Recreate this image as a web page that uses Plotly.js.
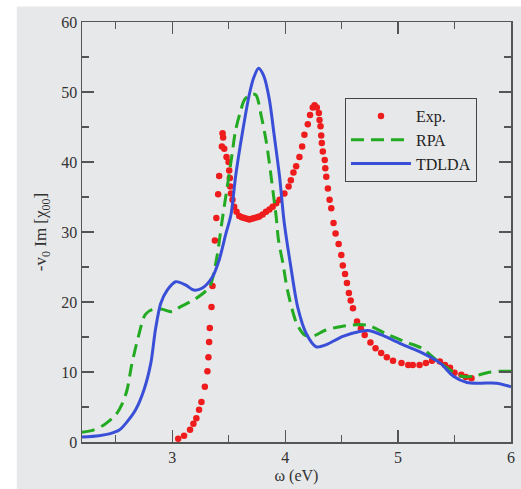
<!DOCTYPE html>
<html>
<head>
<meta charset="utf-8">
<script src="https://cdn.plot.ly/plotly-3.0.1.min.js"></script>
<style>html,body{margin:0;padding:0;background:#fff;}#chart{width:521px;height:489px;}</style>
</head>
<body>
<div id="chart"></div>
<script>
// Experimental data (red dots)
const expX = [3.052,3.104,3.157,3.187,3.213,3.237,3.258,3.288,3.311,3.320,3.326,3.332,3.347,3.356,3.377,3.390,3.406,3.415,3.439,3.445,3.450,3.460,3.480,3.498,3.504,3.510,3.513,3.519,3.533,3.548,3.569,3.593,3.615,3.637,3.660,3.682,3.705,3.726,3.750,3.770,3.800,3.830,3.860,3.889,3.920,3.950,3.993,4.030,4.050,4.073,4.097,4.126,4.150,4.170,4.200,4.220,4.244,4.260,4.280,4.298,4.304,4.313,4.319,4.324,4.333,4.350,4.355,4.364,4.378,4.393,4.408,4.428,4.446,4.473,4.497,4.510,4.530,4.547,4.564,4.580,4.600,4.636,4.670,4.704,4.755,4.800,4.850,4.900,4.955,5.030,5.090,5.130,5.190,5.246,5.300,5.370,5.415,5.460,5.500,5.560,5.600,5.650];
const expY = [0.47,0.9,1.76,2.6,3.4,4.6,5.7,7.9,10.1,12.1,14.3,16.3,19.3,22.3,28.8,32.0,35.4,38.0,42.2,44.1,43.5,41.9,40.7,40.0,38.8,37.7,36.5,35.5,34.6,33.6,32.9,32.3,32.1,32.0,31.9,31.8,31.9,32.0,32.1,32.2,32.5,32.9,33.2,33.6,34.1,34.6,35.5,36.5,37.4,38.5,39.4,40.7,42.2,43.9,45.4,46.7,47.8,48.1,47.8,47.0,46.0,45.1,43.8,42.7,41.5,40.3,39.1,37.9,36.2,34.6,33.4,31.3,29.8,28.3,26.7,25.2,24.0,22.7,21.3,20.2,19.1,17.2,16.2,15.3,14.2,13.4,12.7,12.1,11.6,11.3,11.0,11.0,11.0,11.3,11.6,11.5,11.0,10.6,9.9,9.6,9.3,9.1];

// RPA (green dashed)
const rpaX = [2.20,2.30,2.40,2.50,2.56,2.60,2.64,2.70,2.76,2.82,2.90,3.00,3.06,3.21,3.33,3.39,3.44,3.50,3.53,3.56,3.60,3.64,3.70,3.74,3.79,3.83,3.86,3.89,3.92,3.94,3.98,4.02,4.10,4.17,4.24,4.36,4.50,4.66,4.75,4.90,5.02,5.10,5.21,5.34,5.46,5.56,5.67,5.79,5.90,6.00];
const rpaY = [1.4,1.7,2.5,3.9,5.6,7.5,11.0,15.1,18.2,18.9,19.0,18.6,19.2,20.5,22.2,26.0,31.5,37.9,41.2,44.5,47.0,48.9,49.7,49.6,46.4,43.1,39.8,36.0,32.2,28.9,25.5,21.7,17.0,15.3,15.1,16.0,16.5,16.8,16.6,15.4,14.6,14.1,13.4,11.7,10.3,9.4,9.4,9.9,10.1,10.1];

// TDLDA (blue solid)
const tdX = [2.20,2.35,2.45,2.53,2.59,2.675,2.75,2.81,2.85,2.897,2.955,3.03,3.12,3.19,3.267,3.356,3.415,3.475,3.52,3.56,3.62,3.68,3.72,3.764,3.81,3.86,3.90,3.95,3.99,4.05,4.11,4.186,4.275,4.364,4.51,4.66,4.75,4.87,5.015,5.19,5.37,5.49,5.61,5.73,5.87,6.00];
const tdY = [0.7,0.9,1.2,1.7,2.7,4.6,7.5,11.3,16.0,19.8,21.7,22.9,22.4,21.7,22.0,23.6,26.0,29.8,32.5,37.9,44.1,49.5,52.0,53.4,52.3,48.9,44.1,37.9,31.5,25.0,19.3,15.5,13.6,13.9,15.1,15.8,15.9,15.2,14.1,12.9,11.3,9.4,8.5,8.4,8.4,7.9];

const serif = "Liberation Serif, Times New Roman, serif";

const traces = [
  {x: expX, y: expY, name: "Exp.", mode: "markers", type: "scatter",
   marker: {color: "#ee1c1c", size: 6.5}},
  {x: rpaX, y: rpaY, name: "RPA", mode: "lines", type: "scatter",
   line: {color: "#22aa22", width: 3, dash: "13px,7px", shape: "spline", smoothing: 0.8}},
  {x: tdX, y: tdY, name: "TDLDA", mode: "lines", type: "scatter",
   line: {color: "#3a4fd8", width: 3, shape: "spline", smoothing: 0.8}}
];

const axisCommon = {
  showline: true, linecolor: "#555", linewidth: 1.5, mirror: "ticks",
  ticks: "inside", ticklen: 12, tickwidth: 1.3, tickcolor: "#555",
  showgrid: false, zeroline: false,
  tickfont: {family: serif, size: 16, color: "#333"}
};

const layout = {
  width: 521, height: 489,
  margin: {l: 82, r: 10, t: 22, b: 47},
  paper_bgcolor: "#ffffff",
  plot_bgcolor: "rgba(0,0,0,0)",
  showlegend: true,
  legend: {x: 0.613, y: 0.819, xanchor: "left", yanchor: "top",
    bgcolor: "rgba(0,0,0,0)", bordercolor: "#444", borderwidth: 1,
    font: {family: serif, size: 16, color: "#222"}, itemwidth: 60,
    tracegroupgap: 0},
  xaxis: Object.assign({}, axisCommon, {
    range: [2.2, 6], dtick: 1, tick0: 0,
    minor: {dtick: 0.5, tick0: 0, ticks: "inside", ticklen: 7, tickcolor: "#555", tickwidth: 1.2},
    title: {text: "ω (eV)", font: {family: serif, size: 16, color: "#333"}, standoff: 5}
  }),
  yaxis: Object.assign({}, axisCommon, {
    range: [0, 60], dtick: 10,
    minor: {dtick: 5, ticks: "inside", ticklen: 7, tickcolor: "#555", tickwidth: 1.2},
    title: {text: "-v<sub>0</sub> Im [χ<sub>00</sub>]", font: {family: serif, size: 17, color: "#333"}, standoff: 10}
  }),
  shapes: [
    {type: "rect", xref: "paper", yref: "paper", x0: -0.152, x1: 1.03, y0: -0.112, y1: 1.037,
     fillcolor: "#e7e8e9", line: {width: 0}, layer: "below"}
  ]
};

Plotly.newPlot("chart", traces, layout, {displayModeBar: false, staticPlot: true});
</script>
</body>
</html>
